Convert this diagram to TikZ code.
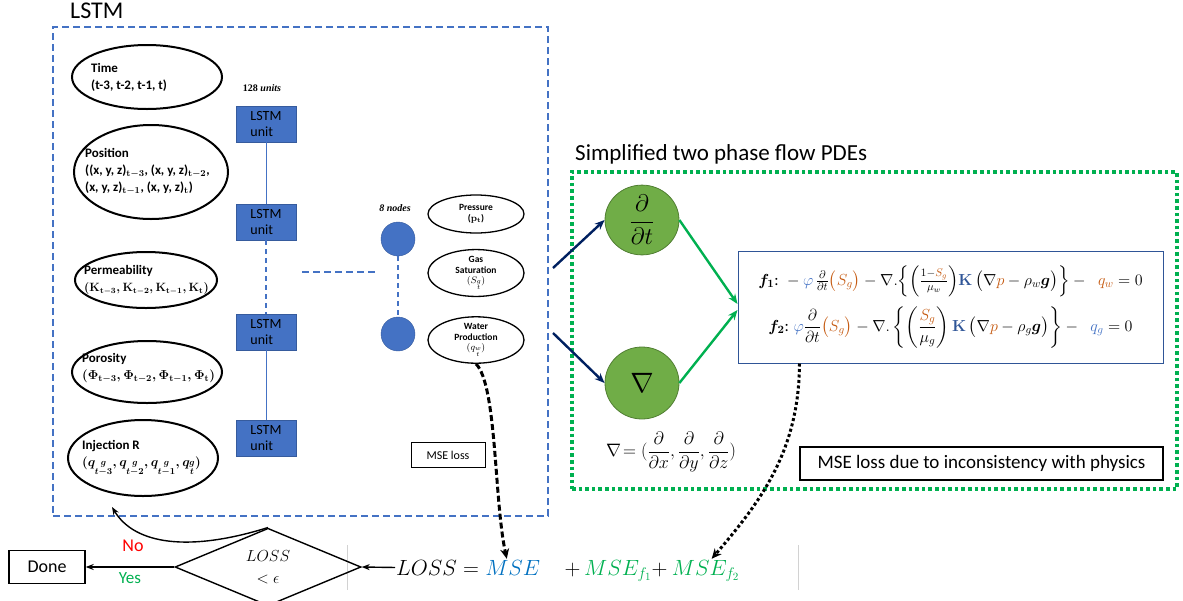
\RequirePackage{fix-cm}
\documentclass[tikz,border=0pt]{standalone}
\usepackage{amsmath}
\usepackage[no-math]{fontspec}
\setmainfont{Carlito}
\newfontfamily\timesfont{Liberation Serif}
\usepackage{tikz}
\usetikzlibrary{arrows.meta, positioning, shapes.geometric}

\definecolor{lstmblue}{HTML}{4472C4}
\definecolor{pdegreen}{HTML}{00B050}
\definecolor{circgreen}{HTML}{70AD47}
\definecolor{circedge}{HTML}{507E32}
\definecolor{navyarrow}{HTML}{002060}
\definecolor{eqorange}{HTML}{C55A11}
\definecolor{eqblue}{HTML}{4472C4}
\definecolor{kblue}{HTML}{2F5597}
\definecolor{mseblue}{HTML}{0070C0}
\newcommand{\fsz}[2]{\fontsize{#1}{#2}\selectfont}

\begin{document}
\begin{tikzpicture}[
    x=1pt, y=-1pt,
    inell/.style={ellipse, draw, line width=2pt, inner sep=0pt},
    intxt/.style={anchor=west, align=left, inner sep=0pt, font=\fsz{13}{17}\bfseries\boldmath},
    outell/.style={ellipse, draw, line width=1.3pt, inner sep=0pt,
                   minimum width=96pt, align=center, font=\fsz{9.5}{10.5}\bfseries},
    unitbox/.style={draw=lstmblue!80!black, fill=lstmblue, minimum width=60pt,
                    minimum height=36pt, inner sep=0pt, align=left, font=\fsz{14}{16}},
    nodecirc/.style={circle, fill=lstmblue, draw=lstmblue!80!black, minimum size=34pt, inner sep=0pt},
    pdecirc/.style={ellipse, fill=circgreen, draw=circedge, line width=0.8pt, inner sep=0pt},
    bluedash/.style={draw=lstmblue, line width=1.6pt, dash pattern=on 7pt off 4pt},
    navyarr/.style={-{Stealth[length=10pt,width=8pt]}, line width=2.4pt, navyarrow},
    greenarr/.style={-{Stealth[length=10pt,width=8pt]}, line width=2.4pt, pdegreen},
    blkarr/.style={-{Stealth[length=8pt,width=6pt]}, line width=1.4pt},
    lossarr/.style={-{Stealth[length=10pt,width=9pt]}, line width=3pt},
    eqtxt/.style={inner sep=1pt, font=\fsz{22}{26}},
]
\useasboundingbox (0,0) rectangle (1183,600);
%% -- LSTM frame and title --
\node[bluedash, minimum width=495pt, minimum height=489pt](lstmbox)at(300.5,271.5){};
\node[anchor=base west, inner sep=0pt, font=\fsz{24}{28}](lstmtitle)at(70,18.5){LSTM};
%% -- Input ellipses --
\node[inell, minimum width=150pt, minimum height=64pt](time)at(147,77){};
\node[intxt](timet)at([xshift=20pt]time.west){Time\\(t-3, t-2, t-1, t)};
\node[inell, minimum width=154pt, minimum height=94pt](pos)at(151,172){};
\node[intxt](post)at([xshift=12pt]pos.west){Position\\((x, y, z)$_{\mathrm{t}-3}$, (x, y, z)$_{\mathrm{t}-2}$,\\(x, y, z)$_{\mathrm{t}-1}$, (x, y, z)$_{\mathrm{t}}$)};
\node[inell, minimum width=142pt, minimum height=56pt](perm)at(146,280){};
\node[intxt](permt)at([xshift=10pt]perm.west){Permeability\\\fsz{12}{17}$(\mathbf{K}_{\mathrm{t}-3}, \mathbf{K}_{\mathrm{t}-2}, \mathbf{K}_{\mathrm{t}-1}, \mathbf{K}_{\mathrm{t}})$};
\node[inell, minimum width=150pt, minimum height=62pt](poro)at(147,372){};
\node[intxt](porot)at([xshift=11pt,yshift=4pt]poro.west){Porosity\\$(\mathbf{\Phi}_{\mathrm{t}-3}, \mathbf{\Phi}_{\mathrm{t}-2}, \mathbf{\Phi}_{\mathrm{t}-1}, \mathbf{\Phi}_{\mathrm{t}})$};
\node[inell, minimum width=150pt, minimum height=76pt](inj)at(143,458){};
\node[intxt](injt)at([xshift=15pt]inj.west){Injection R\\$(q_{\substack{g\\ t-3}}, q_{\substack{g\\ t-2}}, q_{\substack{g\\ t-1}}, q_{\substack{g\\ t}})$};
%% -- LSTM units (128 units) --
\node[font=\timesfont\fsz{10}{12}\bfseries](units)at(262,88){128 \textit{units}};
\foreach \n/\y in {1/124,2/222,3/332,4/438}{
  \node[unitbox](u\n)at(266,\y){LSTM\\unit};
}
\draw[lstmblue, line width=1pt](u1)--(u2);
\draw[lstmblue, line width=1.4pt, dash pattern=on 5pt off 4pt](u2)--(u3);
\draw[lstmblue, line width=1pt](u3)--(u4);
%% -- Dense layer: 8 nodes --
\coordinate(hl)at(302,272);
\coordinate(hr)at(377,272);
\draw[bluedash](hl)--(hr);
\node[font=\timesfont\fsz{10}{12}\bfseries\itshape](nodes)at(395,208){8 nodes};
\node[nodecirc](c1)at(398,239){};
\node[nodecirc](c2)at(398,334){};
\draw[lstmblue, line width=1.4pt, dash pattern=on 5pt off 4pt](c1)--(c2);
%% -- Outputs --
\node[outell, minimum height=38pt](pres)at(476,214){Pressure\\($\mathbf{p}_{\mathbf{t}}$)};
\node[outell, minimum height=44pt](gas)at(476,273){Gas\\Saturation\\$(S_{\substack{g\\ t}})$};
\node[outell, minimum height=46pt](wat)at(476,340){Water\\Production\\$(q_{\substack{w\\ t}})$};
\node[draw, line width=0.9pt, minimum width=74pt, minimum height=25pt, font=\fsz{12}{14}](mseloss)at(448,455){MSE loss};
%% -- PDE frame and title --
\node[draw=pdegreen, line width=3.6pt, dash pattern=on 3.6pt off 3pt, minimum width=605pt, minimum height=317pt](pdebox)at(874.5,330.5){};
\node[anchor=base west, inner sep=0pt, font=\fsz{23}{27}](pdetitle)at(575,160){Simplified two phase flow PDEs};
%% -- Derivative operators --
\node[pdecirc, minimum width=74pt, minimum height=66pt, font=\fsz{24}{28}](dt)at(642,220){$\dfrac{\partial}{\partial t}$};
\node[pdecirc, minimum width=74pt, minimum height=72pt, font=\fsz{28}{32}](nab)at(642,383){$\nabla$};
\coordinate(navy1)at(553,268);
\coordinate(navy2)at(553,333);
\draw[navyarr](navy1)--(dt.west);
\draw[navyarr](navy2)--(nab.west);
\node[font=\fsz{18}{22}](nabf)at(671,452){$\nabla\!=(\dfrac{\partial}{\partial x},\dfrac{\partial}{\partial y},\dfrac{\partial}{\partial z})$};
%% -- PDE residuals f1, f2 --
\node[draw=kblue, line width=1pt, minimum width=425pt, minimum height=112pt, align=center, font=\fsz{16}{19}](eqbox)at(950.5,307){%
$\boldsymbol{f_1}\text{: } -\textcolor{eqblue}{\varphi}\,\tfrac{\partial}{\partial t}\textcolor{eqorange}{\big(S_g\big)} - \nabla.\Big\{\Big(\tfrac{1-\textcolor{eqorange}{S_g}}{\mu_w}\Big)\textcolor{kblue}{\mathbf{K}}\,\big(\nabla \textcolor{eqorange}{p}-\rho_w\boldsymbol{g}\big)\Big\} -\;\; \textcolor{eqorange}{q_w} = 0$\\[9pt]
$\boldsymbol{f_2}\text{: } \textcolor{eqblue}{\varphi}\dfrac{\partial}{\partial t}\textcolor{eqorange}{\big(S_g\big)} - \nabla.\left\{\left(\dfrac{\textcolor{eqorange}{S_g}}{\mu_g}\right)\textcolor{kblue}{\mathbf{K}}\,\big(\nabla\textcolor{eqorange}{p}-\rho_g\boldsymbol{g}\big)\right\} -\;\; \textcolor{eqblue}{q_g} = 0$};
\draw[greenarr](dt.east)--([yshift=3pt]eqbox.west);
\draw[greenarr](nab.east)--([yshift=-3pt]eqbox.west);
\node[draw, line width=1.4pt, minimum width=363pt, minimum height=33pt, font=\fsz{19}{21}](physbox)at(981.5,463.5){MSE loss due to inconsistency with physics};
%% -- Loss and stopping test --
\node[eqtxt, anchor=base west](lossl)at(395,575){$LOSS=$};
\node[eqtxt, anchor=base west, text=mseblue](mse)at([xshift=4pt]lossl.base east){$MSE$};
\node[eqtxt, anchor=base west](plus1)at([xshift=22pt]mse.base east){$+\,\textcolor{pdegreen}{MSE_{f_1}}+$};
\node[eqtxt, anchor=base west, text=pdegreen](msef2)at([xshift=2pt]plus1.base east){$MSE_{f_2}$};
\draw[gray!35, line width=1pt](347,545)--(347,590);
\draw[gray!35, line width=1pt](798,545)--(798,590);
\node[diamond, draw, line width=1.4pt, minimum width=186pt, minimum height=64pt, inner sep=0pt, align=center, font=\fsz{16}{22}](dia)at(268,567){$LOSS$\\$<\epsilon$};
\node[draw, line width=1.4pt, minimum width=76pt, minimum height=33pt, font=\fsz{18}{20}](done)at(47,567){Done};
\coordinate(noend)at(112,507);
\draw[blkarr](lossl.west)--(dia.east);
\draw[blkarr](dia.west)--(done.east)
  node[below=2pt, pos=0.5, text=pdegreen, font=\fsz{17}{20}]{Yes};
\draw[blkarr](dia.north)..controls(190,552)and(135,545)..(noend);
\node[text=red, font=\fsz{18}{20}](nolbl)at(133,546){No};
%% -- Loss feedback arrows --
\draw[lossarr, dash pattern=on 6pt off 3pt](wat.south)..controls(497,385)and(494,500)..([xshift=-6pt]mse.north);
\draw[lossarr, dash pattern=on 3pt off 2.5pt]([xshift=62pt]eqbox.south west)..controls(799,450)and(762,500)..([xshift=6pt]msef2.north);
\end{tikzpicture}
\end{document}
